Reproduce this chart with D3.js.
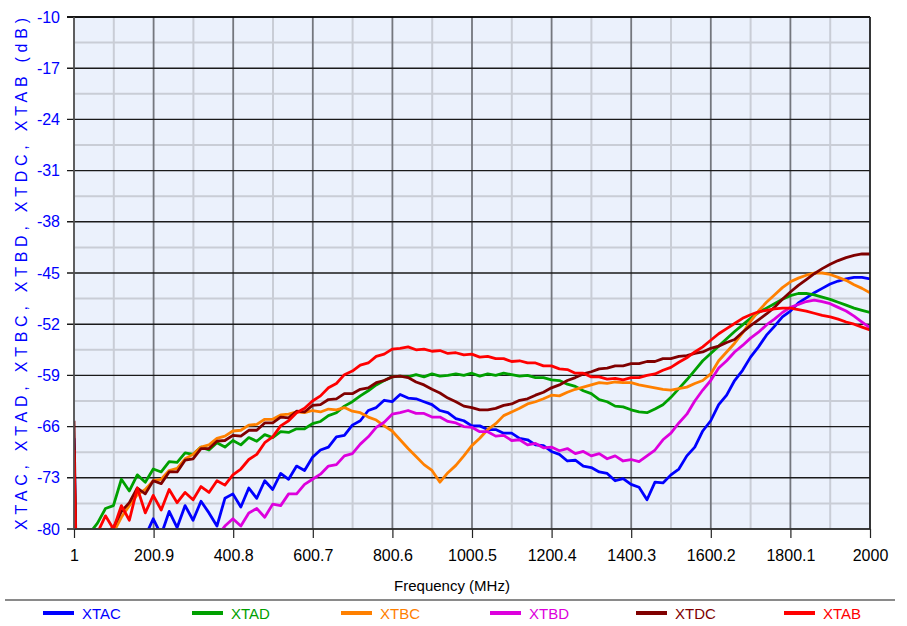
<!DOCTYPE html>
<html>
<head>
<meta charset="utf-8">
<script src="https://cdn.jsdelivr.net/npm/d3@7"></script>
<style>
html,body{margin:0;padding:0;background:#fff;}
svg{display:block;font-family:Arial,"Liberation Sans",sans-serif;}
</style>
</head>
<body>
<svg id="chart" width="907" height="626"></svg>
<script>
// ---------- DATA ----------
const freq = [1,7,20,40,60,80,100,120,140,160,
180,200,220,240,260,280,300,320,340,360,
380,400,420,440,460,480,500,520,540,560,
580,600,620,640,660,680,700,720,740,760,
780,800,820,840,860,880,900,920,940,960,
980,1000,1020,1040,1060,1080,1100,1120,1140,1160,
1180,1200,1220,1240,1260,1280,1300,1320,1340,1360,
1380,1400,1420,1440,1460,1480,1500,1520,1540,1560,
1580,1600,1620,1640,1660,1680,1700,1720,1740,1760,
1780,1800,1820,1840,1860,1880,1900,1920,1940,1960,
1980,2000];

const XTAC = [-67.6,-86,-86,-85,-85,-84,-84,-83,-84,-82,
-81,-78.6,-80.8,-77.6,-79.8,-76.8,-78.8,-76.2,-77.8,-79.6,
-75.8,-75.2,-77,-74.4,-75.8,-73.4,-74.6,-72.4,-73.2,-71.4,
-72,-70.2,-69.2,-68.8,-67.4,-67.2,-65.8,-65.2,-63.8,-63.4,
-62.4,-62.6,-61.6,-62.1,-62.2,-62.6,-63,-63.8,-64.1,-64.9,
-65.2,-65.9,-65.9,-66.4,-66.4,-66.9,-66.9,-67.6,-67.8,-68.5,
-68.6,-69.4,-69.8,-70.7,-70.6,-71.4,-71.6,-72.2,-72.4,-73.4,
-73.1,-73.9,-74.3,-76,-73.6,-73.7,-72.6,-71.8,-70,-68.8,
-66.6,-65.2,-63,-61.7,-59.7,-58.3,-56.5,-55.1,-53.5,-52.3,
-51,-50.2,-49.1,-48.4,-47.7,-47.1,-46.5,-46.1,-45.8,-45.6,
-45.6,-45.8];

const XTAD = [-71,-86,-85,-80.6,-79.2,-77.2,-76.8,-73.2,-74.8,-72.6,
-73.6,-71.8,-72.2,-70.8,-70.9,-69.6,-69.8,-68.8,-69.2,-68.2,
-68.8,-67.9,-68.5,-67.5,-68,-67.1,-67.5,-66.7,-66.8,-66.3,
-66.3,-65.6,-65.3,-64.5,-64.1,-63.2,-62.6,-61.8,-61.1,-60.3,
-59.7,-59.2,-59.1,-59.2,-58.9,-59.2,-58.8,-59.1,-59,-58.8,
-59,-58.7,-59.1,-58.8,-59,-58.7,-58.9,-59.1,-59,-59.3,
-59.3,-59.6,-59.7,-60.2,-60.5,-61.1,-61.5,-62.3,-62.6,-63.2,
-63.3,-63.7,-64,-64.1,-63.6,-63,-62,-60.8,-59.6,-58.3,
-57,-56,-55,-54,-53,-52.1,-51.2,-50.4,-49.8,-49.2,
-48.6,-48.1,-47.8,-47.8,-48,-48.3,-48.6,-49,-49.4,-49.8,
-50.1,-50.4];

const XTBC = [-70,-86,-85,-84,-83,-82,-80.5,-78.4,-76.8,-75.3,
-74.6,-73.4,-73.2,-72,-71.7,-70.4,-69.8,-68.8,-68.5,-67.6,
-67.3,-66.6,-66.5,-65.8,-65.7,-65,-65,-64.4,-64.3,-64,
-64.1,-63.8,-64,-63.6,-63.7,-63.4,-63.9,-64.1,-64.7,-65.1,
-65.9,-66.6,-67.8,-69,-70.1,-71.2,-72,-73.6,-72.3,-71.3,
-70,-68.6,-67.6,-66.4,-65.6,-64.5,-64,-63.5,-62.9,-62.6,
-62.2,-61.7,-61.8,-61.3,-60.9,-60.6,-60.3,-60,-60.1,-59.9,
-60,-60,-60.3,-60.5,-60.7,-60.9,-61,-60.8,-60.6,-60.1,
-59.7,-58.8,-57,-55.8,-54.6,-53.2,-51.6,-50.2,-49,-48,
-47,-46.2,-45.7,-45.3,-45,-45,-45.2,-45.6,-46,-46.6,
-47.1,-47.7];

const XTBD = [-78.5,-86,-86,-85,-85,-84,-84,-84,-83,-83,
-83,-82.5,-82,-82,-81.5,-81.5,-80.6,-81.2,-80.2,-81,
-79.6,-78.6,-79.6,-77.8,-77.2,-78.4,-76.6,-76.8,-75.2,-75.2,
-73.9,-73.2,-72.5,-71.4,-71.2,-70,-69.7,-68.4,-67.4,-66.1,
-65.4,-64.3,-64.1,-63.8,-64.2,-64.2,-64.7,-64.7,-65.3,-65.5,
-66,-66.1,-66.7,-66.7,-67.3,-67.2,-67.9,-67.8,-68.5,-68.3,
-68.9,-68.8,-69.3,-69,-69.7,-69.4,-70,-69.7,-70.4,-70,
-70.7,-70.5,-70.8,-70,-69.2,-67.8,-66.9,-65.5,-64.3,-62.5,
-61,-59.7,-58,-57,-55.8,-54.9,-53.9,-53.1,-52.1,-51.3,
-50.4,-49.7,-49.3,-48.9,-48.7,-48.9,-49.2,-49.7,-50.2,-50.9,
-51.7,-52.5];

const XTDC = [-65.2,-86,-85,-84,-82.5,-80.5,-79.8,-77.6,-76.4,-74.4,
-75.2,-73.4,-73.8,-72.2,-72.2,-70.6,-70.4,-69,-69,-68,
-67.9,-67.2,-67.3,-66.5,-66.5,-65.5,-65.5,-64.7,-64.8,-63.9,
-64,-63.1,-63,-62.3,-62.2,-61.5,-61.5,-60.9,-60.7,-60,
-59.7,-59.2,-59.1,-59.3,-59.9,-60.3,-60.9,-61.4,-62.1,-62.6,
-63.2,-63.4,-63.7,-63.7,-63.5,-63.1,-62.9,-62.4,-62.2,-61.7,
-61.3,-60.7,-60.3,-59.7,-59.3,-58.8,-58.5,-58.1,-58,-57.7,
-57.7,-57.4,-57.4,-57.1,-57.1,-56.7,-56.7,-56.4,-56.3,-56,
-55.8,-55.3,-55,-54.5,-54.1,-53.1,-52.2,-51.4,-50.6,-49.7,
-48.6,-47.6,-46.7,-45.9,-45.1,-44.4,-43.8,-43.3,-42.9,-42.6,
-42.4,-42.4];

const XTAB = [-69.2,-86,-85,-83,-80.5,-78.2,-80,-76.8,-78.8,-74.4,
-77.8,-75.4,-77.4,-74.6,-76.4,-75,-76,-74.2,-75,-73.4,
-74,-72.6,-71.8,-70.5,-69.8,-68.2,-67.4,-65.9,-65.2,-64.1,
-63.5,-62.5,-61.8,-60.7,-60.1,-58.9,-58.4,-57.6,-57.3,-56.4,
-56.1,-55.4,-55.3,-55.1,-55.5,-55.4,-55.7,-55.6,-56,-55.9,
-56.2,-56.1,-56.5,-56.4,-56.7,-56.7,-57.1,-57,-57.3,-57.3,
-57.7,-57.7,-58.1,-58.2,-58.7,-58.7,-59.2,-59.2,-59.5,-59.4,
-59.6,-59.3,-59.3,-59,-58.8,-58.3,-57.9,-57.2,-56.6,-55.8,
-55.1,-54.2,-53.3,-52.6,-51.9,-51.2,-50.7,-50.3,-50.1,-49.9,
-49.8,-49.8,-50,-50.2,-50.5,-50.8,-51,-51.3,-51.7,-52,
-52.4,-52.8];

const seriesNames = ["XTAC","XTAD","XTBC","XTBD","XTDC","XTAB"];
const seriesValues = [XTAC, XTAD, XTBC, XTBD, XTDC, XTAB];
const seriesColors = ["#0000ff","#00a000","#ff8000","#dd00dd","#800000","#ff0000"];

const xTickValues = [1,200.9,400.8,600.7,800.6,1000.5,1200.4,1400.3,1600.2,1800.1,2000];
const xTickLabels = ["1","200.9","400.8","600.7","800.6","1000.5","1200.4","1400.3","1600.2","1800.1","2000"];
const yTickValues = [-80,-73,-66,-59,-52,-45,-38,-31,-24,-17,-10];
const yTickLabels = ["-80","-73","-66","-59","-52","-45","-38","-31","-24","-17","-10"];

const xTitle = "Frequency (MHz)";
const yTitle = "XTAC, XTAD, XTBC, XTBD, XTDC, XTAB (dB)";

// ---------- LAYOUT ----------
const L = 74, R = 870, T = 17, B = 529;
const svg = d3.select("#chart");
const x = d3.scaleLinear().domain([1,2000]).range([L,R]);
const y = d3.scaleLinear().domain([-80,-10]).range([B,T]);

svg.append("rect").attr("x",L).attr("y",T).attr("width",R-L).attr("height",B-T).attr("fill","#ebf1fc");

// minor grid
const xMinor = d3.pairs(xTickValues).map(p => (p[0]+p[1])/2);
const yMinor = d3.pairs(yTickValues).map(p => (p[0]+p[1])/2);
const g = svg.append("g");
g.selectAll(".xm").data(xMinor).join("line")
  .attr("x1",d=>x(d)).attr("x2",d=>x(d)).attr("y1",T).attr("y2",B)
  .attr("stroke","#c9cdd6").attr("stroke-width",2);
g.selectAll(".ym").data(yMinor).join("line")
  .attr("x1",L).attr("x2",R).attr("y1",d=>y(d)).attr("y2",d=>y(d))
  .attr("stroke","#c9cdd6").attr("stroke-width",2);
// major grid
g.selectAll(".xM").data(xTickValues).join("line")
  .attr("x1",d=>x(d)).attr("x2",d=>x(d)).attr("y1",T).attr("y2",B)
  .attr("stroke","#74777e").attr("stroke-width",1.8);
g.selectAll(".yM").data(yTickValues).join("line")
  .attr("x1",L-7).attr("x2",R).attr("y1",d=>y(d)).attr("y2",d=>y(d))
  .attr("stroke","#1a1a1a").attr("stroke-width",1.4);

// axes
const xAxis = d3.axisBottom(x).tickValues(xTickValues)
  .tickFormat((d,i)=>xTickLabels[i]).tickSize(9).tickPadding(12);
const xg = svg.append("g").attr("transform",`translate(0,${B})`).call(xAxis);
xg.select(".domain").remove();
xg.selectAll("line").attr("stroke","#222").attr("stroke-width",1.2);
xg.selectAll("text").attr("fill","#000").style("font-size","16px").style("font-family","Arial, 'Liberation Sans', sans-serif");

const yAxis = d3.axisLeft(y).tickValues(yTickValues)
  .tickFormat((d,i)=>yTickLabels[i]).tickSize(0).tickPadding(14);
const yg = svg.append("g").attr("transform",`translate(${L},0)`).call(yAxis);
yg.select(".domain").remove();
yg.selectAll("text").attr("fill","#0000ff").style("font-size","16px").style("font-family","Arial, 'Liberation Sans', sans-serif");

// clip + lines
svg.append("clipPath").attr("id","clip").append("rect")
  .attr("x",L).attr("y",T).attr("width",R-L).attr("height",B-T);
const line = d3.line().x((d,i)=>x(freq[i])).y(d=>y(d));
const lg = svg.append("g").attr("clip-path","url(#clip)");
seriesValues.forEach((vals,k)=>{
  lg.append("path").datum(vals).attr("d",line)
    .attr("fill","none").attr("stroke",seriesColors[k])
    .attr("stroke-width",2.8).attr("stroke-linejoin","round");
});

// frame
svg.append("line").attr("x1",L-7).attr("x2",R).attr("y1",T).attr("y2",T).attr("stroke","#000").attr("stroke-width",1.6);
svg.append("line").attr("x1",L).attr("x2",R).attr("y1",B).attr("y2",B).attr("stroke","#333").attr("stroke-width",1.6);
svg.append("line").attr("x1",L).attr("x2",L).attr("y1",T).attr("y2",B).attr("stroke","#555").attr("stroke-width",1.6);
svg.append("line").attr("x1",R).attr("x2",R).attr("y1",T).attr("y2",B).attr("stroke","#222").attr("stroke-width",1.6);

// titles
svg.append("text").attr("x",452).attr("y",591).attr("text-anchor","middle")
  .attr("fill","#000").style("font-size","15px").text(xTitle);
svg.append("text").attr("transform",`translate(27,${(T+B)/2 + 1}) rotate(-90)`)
  .attr("text-anchor","middle").attr("fill","#0000ff").style("font-size","16px")
  .attr("textLength",512).attr("lengthAdjust","spacing").text(yTitle);

// legend
svg.append("line").attr("x1",5).attr("x2",895).attr("y1",600).attr("y2",600)
  .attr("stroke","#8a8a8a").attr("stroke-width",2);
const legX = [43,192,341,490,636,784];
const leg = svg.append("g");
seriesNames.forEach((n,k)=>{
  leg.append("line").attr("x1",legX[k]).attr("x2",legX[k]+31).attr("y1",613).attr("y2",613)
    .attr("stroke",seriesColors[k]).attr("stroke-width",4);
  leg.append("text").attr("x",legX[k]+39).attr("y",619).attr("fill",seriesColors[k])
    .style("font-size","15px").text(n);
});
</script>
</body>
</html>
